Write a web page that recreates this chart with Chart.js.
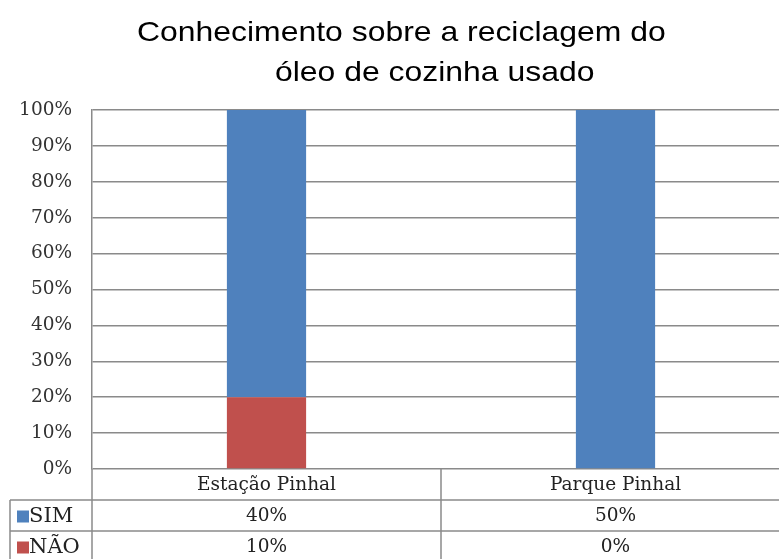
<!DOCTYPE html>
<html>
<head>
<meta charset="utf-8">
<script src="https://cdn.jsdelivr.net/npm/chart.js@4/dist/chart.umd.min.js"></script>
<style>
  html, body { margin: 0; padding: 0; background: #fff; overflow: hidden; }
  #wrap { position: relative; width: 800px; height: 559px; }
  .title {
    position: absolute;
    font-family: "Liberation Sans", Arial, sans-serif;
    font-size: 28px;
    line-height: 1;
    color: #000;
    white-space: nowrap;
    transform: scaleX(1.14);
    transform-origin: 0 0;
  }
</style>
</head>
<body>
<div id="wrap">
  <div class="title" style="left:137px;top:18px">Conhecimento sobre a reciclagem do</div>
  <div class="title" style="left:275px;top:58px">óleo de cozinha usado</div>
  <canvas id="chart" width="800" height="559"></canvas>
</div>
<script>
// Respostas por bairro (percentual de entrevistados)
const categories = ['Estação Pinhal', 'Parque Pinhal'];
const seriesNames = ['SIM', 'NÃO'];
const simValues = [40, 50];
const naoValues = [10, 0];
const yTicks = [0, 10, 20, 30, 40, 50, 60, 70, 80, 90, 100];

const blue = '#4f81bd';
const red = '#c0504d';
const lineColor = '#8a8a8a';
const serif = '"DejaVu Serif", "Liberation Serif", serif';
const fontSize = 18.5;

// empilhado em 100%: cada coluna é a fração do total do bairro
const totals = categories.map((_, i) => simValues[i] + naoValues[i]);
const toShare = (arr) => arr.map((v, i) => totals[i] ? (v / totals[i]) * 100 : 0);

const tableRows = [
  { name: seriesNames[0], color: blue, values: simValues },
  { name: seriesNames[1], color: red, values: naoValues },
];

// tabela de dados abaixo do gráfico
const dataTable = {
  id: 'dataTable',
  afterDraw(chart) {
    const { ctx, chartArea, scales: { x } } = chart;
    const rowH = 31;
    const top = chartArea.bottom;
    const left = 10;
    const right = chart.width;
    const bottom = chart.height;

    const line = (x1, y1, x2, y2) => {
      ctx.beginPath();
      ctx.moveTo(x1, y1);
      ctx.lineTo(x2, y2);
      ctx.stroke();
    };

    ctx.save();
    ctx.strokeStyle = lineColor;
    ctx.lineWidth = 1.5;
    tableRows.forEach((_, r) => line(left, top + (r + 1) * rowH, right, top + (r + 1) * rowH));
    line(left, top + rowH, left, bottom);
    line(chartArea.left, top, chartArea.left, bottom);
    for (let i = 1; i < categories.length; i++) {
      const bx = (x.getPixelForValue(i - 1) + x.getPixelForValue(i)) / 2;
      line(bx, top, bx, bottom);
    }

    ctx.fillStyle = '#222';
    ctx.textAlign = 'center';
    ctx.textBaseline = 'middle';
    ctx.font = fontSize + 'px ' + serif;
    categories.forEach((c, i) => ctx.fillText(c, x.getPixelForValue(i), top + rowH / 2 + 1));

    tableRows.forEach((row, r) => {
      const cy = top + (r + 1) * rowH + rowH / 2 + 1;
      ctx.font = fontSize + 'px ' + serif;
      ctx.textAlign = 'center';
      row.values.forEach((v, i) => ctx.fillText(v + '%', x.getPixelForValue(i), cy));
      // chave da série
      ctx.fillStyle = row.color;
      ctx.fillRect(17, cy - 6, 12, 12);
      ctx.fillStyle = '#222';
      ctx.textAlign = 'left';
      ctx.font = '21px ' + serif;
      ctx.fillText(row.name, 29, cy);
    });
    ctx.restore();
  }
};

new Chart(document.getElementById('chart'), {
  type: 'bar',
  data: {
    labels: categories,
    datasets: [
      { label: seriesNames[1], data: toShare(naoValues), backgroundColor: red },
      { label: seriesNames[0], data: toShare(simValues), backgroundColor: blue },
    ]
  },
  options: {
    responsive: false,
    animation: false,
    devicePixelRatio: 1,
    layout: { padding: { top: 110, bottom: 90, left: 0, right: 10 } },
    datasets: { bar: { categoryPercentage: 1, barPercentage: 0.227 } },
    plugins: {
      legend: { display: false },
      tooltip: { enabled: false },
      title: { display: false }
    },
    scales: {
      x: { stacked: true, display: false },
      y: {
        stacked: true,
        min: 0,
        max: 100,
        afterFit: (scale) => { scale.width = 92; },
        afterBuildTicks: (scale) => { scale.ticks = yTicks.map(v => ({ value: v })); },
        border: { display: true, color: lineColor, width: 1.5 },
        grid: { color: lineColor, lineWidth: 1.5, drawTicks: false },
        ticks: {
          padding: 20,
          color: '#333',
          font: { family: serif, size: fontSize },
          callback: (v) => v + '%'
        }
      }
    }
  },
  plugins: [dataTable]
});
</script>
</body>
</html>
